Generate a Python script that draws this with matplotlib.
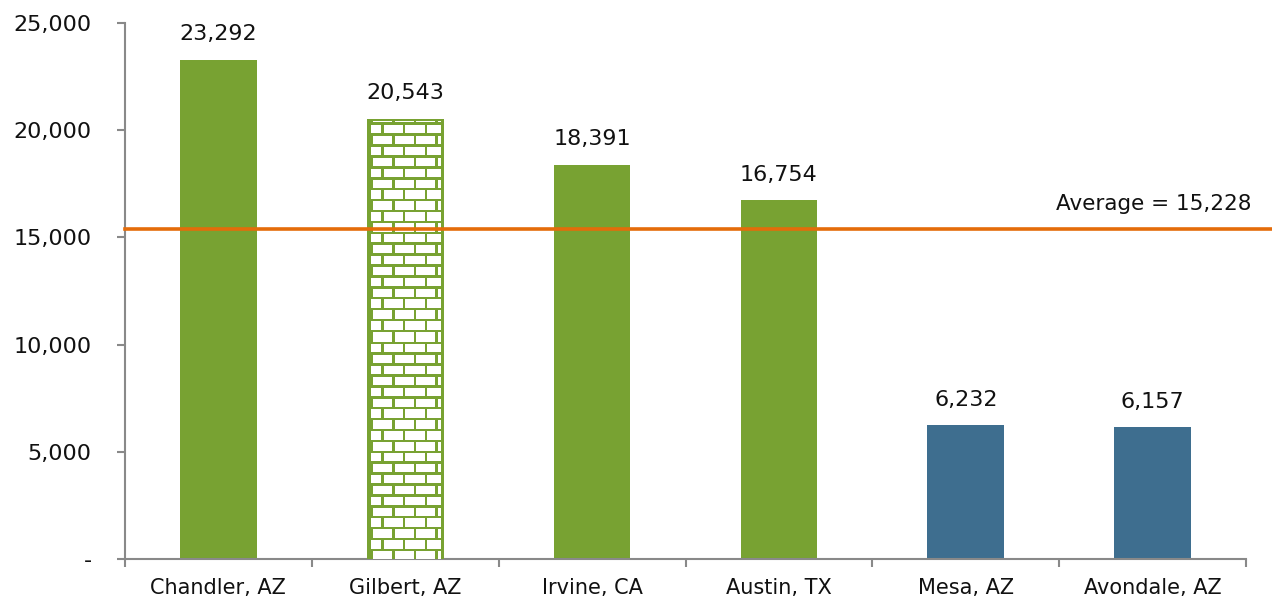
import numpy as np
import matplotlib
matplotlib.use('Agg')
import matplotlib.pyplot as plt

# data
cities = ['Chandler, AZ', 'Gilbert, AZ', 'Irvine, CA', 'Austin, TX', 'Mesa, AZ', 'Avondale, AZ']
values = [23292, 20543, 18391, 16754, 6232, 6157]
kinds = ['solid', 'brick', 'solid', 'solid', 'blue', 'blue']
avg_value = 15228
avg_line_pos = 15400   # line sits a little above the stated average in the original
y_ticks = [0, 5000, 10000, 15000, 20000, 25000]
y_labels = ['-', '5,000', '10,000', '15,000', '20,000', '25,000']

green = '#78A232'
blue = '#3E6E8F'
orange = '#E46C0A'
grey = '#898989'

plt.rcParams['font.family'] = ['DejaVu Sans']

W, H, DPI = 1272, 603, 100
fig = plt.figure(figsize=(W / DPI, H / DPI), dpi=DPI)
ax_l, ax_r, ax_t, ax_b = 125, 1246, 23, 559
ax = fig.add_axes([ax_l / W, (H - ax_b) / H, (ax_r - ax_l) / W, (ax_b - ax_t) / H])

x = np.arange(len(cities))
bw = 0.41
ax.set_xlim(-0.5, len(cities) - 0.5)
ax.set_ylim(0, 25000)

colors = [blue if k == 'blue' else green for k in kinds]
bars = ax.bar(x, values, width=bw, color=colors, zorder=2)


def brick_texture(w_px, h_px, bw_px=21.7, bh_px=10.9, mortar=2.5, edge=4):
    img = np.ones((h_px, w_px, 3))
    g = np.array(matplotlib.colors.to_rgb(green))
    yy, xx = np.mgrid[0:h_px, 0:w_px]
    row = ((yy - edge) // bh_px).astype(int)
    shift = np.where(row % 2 == 0, 0, bw_px / 2)
    in_h = ((yy - edge) % bh_px) < mortar
    in_v = ((xx + shift + 8) % bw_px) < mortar
    border = (xx < edge) | (xx >= w_px - edge + 1) | (yy < edge - 1)
    mask = in_h | in_v | border
    img[mask] = g
    return img


# brick fill for the hatched bar
px_per_x = (ax_r - ax_l) / len(cities)
px_per_y = (ax_b - ax_t) / 25000
for b, k in zip(bars, kinds):
    if k != 'brick':
        continue
    w_px = int(round(b.get_width() * px_per_x))
    h_px = int(round(b.get_height() * px_per_y))
    tex = brick_texture(w_px, h_px)
    x0 = b.get_x()
    im = ax.imshow(tex, extent=(x0, x0 + b.get_width(), 0, b.get_height()),
                   aspect='auto', interpolation='nearest', zorder=3, origin='upper')
    im.set_clip_path(b)

for xi, v in zip(x, values):
    ax.annotate(f'{v:,}', (xi, v), xytext=(0, 11), textcoords='offset points',
                ha='center', va='bottom', fontsize=16, color='#111111')

ax.axhline(avg_line_pos, xmin=0, xmax=(W - ax_l) / (ax_r - ax_l), color=orange,
           lw=2.6, clip_on=False, zorder=4)
ax.annotate(f'Average = {avg_value:,}', ((1252 - ax_l) / (ax_r - ax_l), avg_line_pos),
            xycoords=('axes fraction', 'data'), xytext=(0, 11), textcoords='offset points',
            ha='right', va='bottom', fontsize=15.5, color='#111111', annotation_clip=False)

ax.set_yticks(y_ticks)
ax.set_yticklabels(y_labels)
ax.set_xticks(np.arange(len(cities) + 1) - 0.5)
ax.set_xticklabels([])
ax.set_xticks(x, minor=True)
ax.set_xticklabels(cities, minor=True)
ax.tick_params(axis='x', which='major', length=6, width=1.5, color=grey)
ax.tick_params(axis='x', which='minor', length=0, pad=14, labelsize=15, labelcolor='#111111')
ax.tick_params(axis='y', length=6, width=1.5, color=grey, pad=18, labelsize=16, labelcolor='#111111')

for s in ['top', 'right']:
    ax.spines[s].set_visible(False)
for s in ['left', 'bottom']:
    ax.spines[s].set_color(grey)
    ax.spines[s].set_linewidth(1.5)

fig.savefig('out.png', dpi=DPI)
